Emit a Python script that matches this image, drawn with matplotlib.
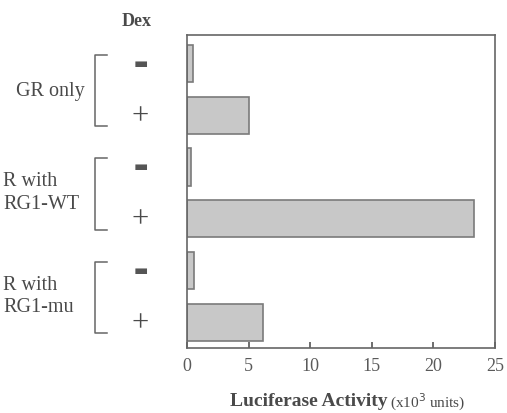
import matplotlib.pyplot as plt
import matplotlib.transforms as mtransforms
from matplotlib.lines import Line2D

# bar values, top to bottom (x10^3 units)
dex = ['-', '+', '-', '+', '-', '+']
activity = [0.5, 5.0, 0.3, 23.3, 0.6, 6.2]
groups = ['GR only', 'R with\nRG1-WT', 'R with\nRG1-mu']
xticks = [0, 5, 10, 15, 20, 25]

W, H = 507, 413
fig = plt.figure(figsize=(W / 100, H / 100), dpi=100)
ax = fig.add_axes([187 / W, 1 - 348 / H, (495 - 187) / W, (348 - 35) / H])

txt = '#4a4a4a'
serif = 'Liberation Serif'

pos = list(range(len(activity)))
ax.barh(pos, activity, height=0.72, color='#c8c8c8', edgecolor='#7a7a7a', linewidth=1.2)
ax.set_ylim(5.5, -0.55)
ax.set_xlim(0, 25)
ax.set_yticks([])
ax.set_xticks(xticks)
ax.set_xticklabels([str(t) for t in xticks], fontfamily=serif, fontsize=13, color='#5a5a5a')
ax.tick_params(axis='x', direction='in', length=4, width=1.2, color='#555555', pad=7)
for s in ax.spines.values():
    s.set_color('#666666')
    s.set_linewidth(1.2)

# left side annotations: x in figure fraction, y in data
tr = mtransforms.blended_transform_factory(fig.transFigure, ax.transData)
for i, d in enumerate(dex):
    if d == '-':
        ax.text(141 / W, i, '\u25ac', transform=tr, ha='center', va='center',
                fontsize=11, color='#555555', family='DejaVu Sans')
    else:
        ax.text(140 / W, i + 0.03, '+', transform=tr, ha='center', va='center',
                fontsize=22, color=txt, family=serif)

for g, name in enumerate(groups):
    y0, y1 = 2 * g - 0.17, 2 * g + 1.21
    xs = [107 / W, 95 / W, 95 / W, 107 / W]
    ys = [y0, y0, y1, y1]
    fig.add_artist(Line2D(xs, ys, transform=tr, color='#666666', linewidth=1.1))
    if g == 0:
        ax.text(85 / W, 2 * g + 0.55, name, transform=tr, ha='right', va='center',
                fontsize=14.5, color=txt, family=serif)
    else:
        ax.text(3 / W, 2 * g + 0.5, name, transform=tr, ha='left', va='center',
                fontsize=14.5, color=txt, family=serif, linespacing=1.25)

fig.text(137 / W, 1 - 22 / H, 'Dex', ha='center', va='center', fontsize=13,
         fontweight='bold', color=txt, family=serif)

fig.text(387 / W, 1 - 402 / H, 'Luciferase Activity', ha='right', va='center',
         fontsize=14, fontweight='bold', color=txt, family=serif)
fig.text(390 / W, 1 - 402 / H, '(x10$^3$ units)', ha='left', va='center',
         fontsize=11, color=txt, family=serif)

fig.savefig('out.png', dpi=100)
